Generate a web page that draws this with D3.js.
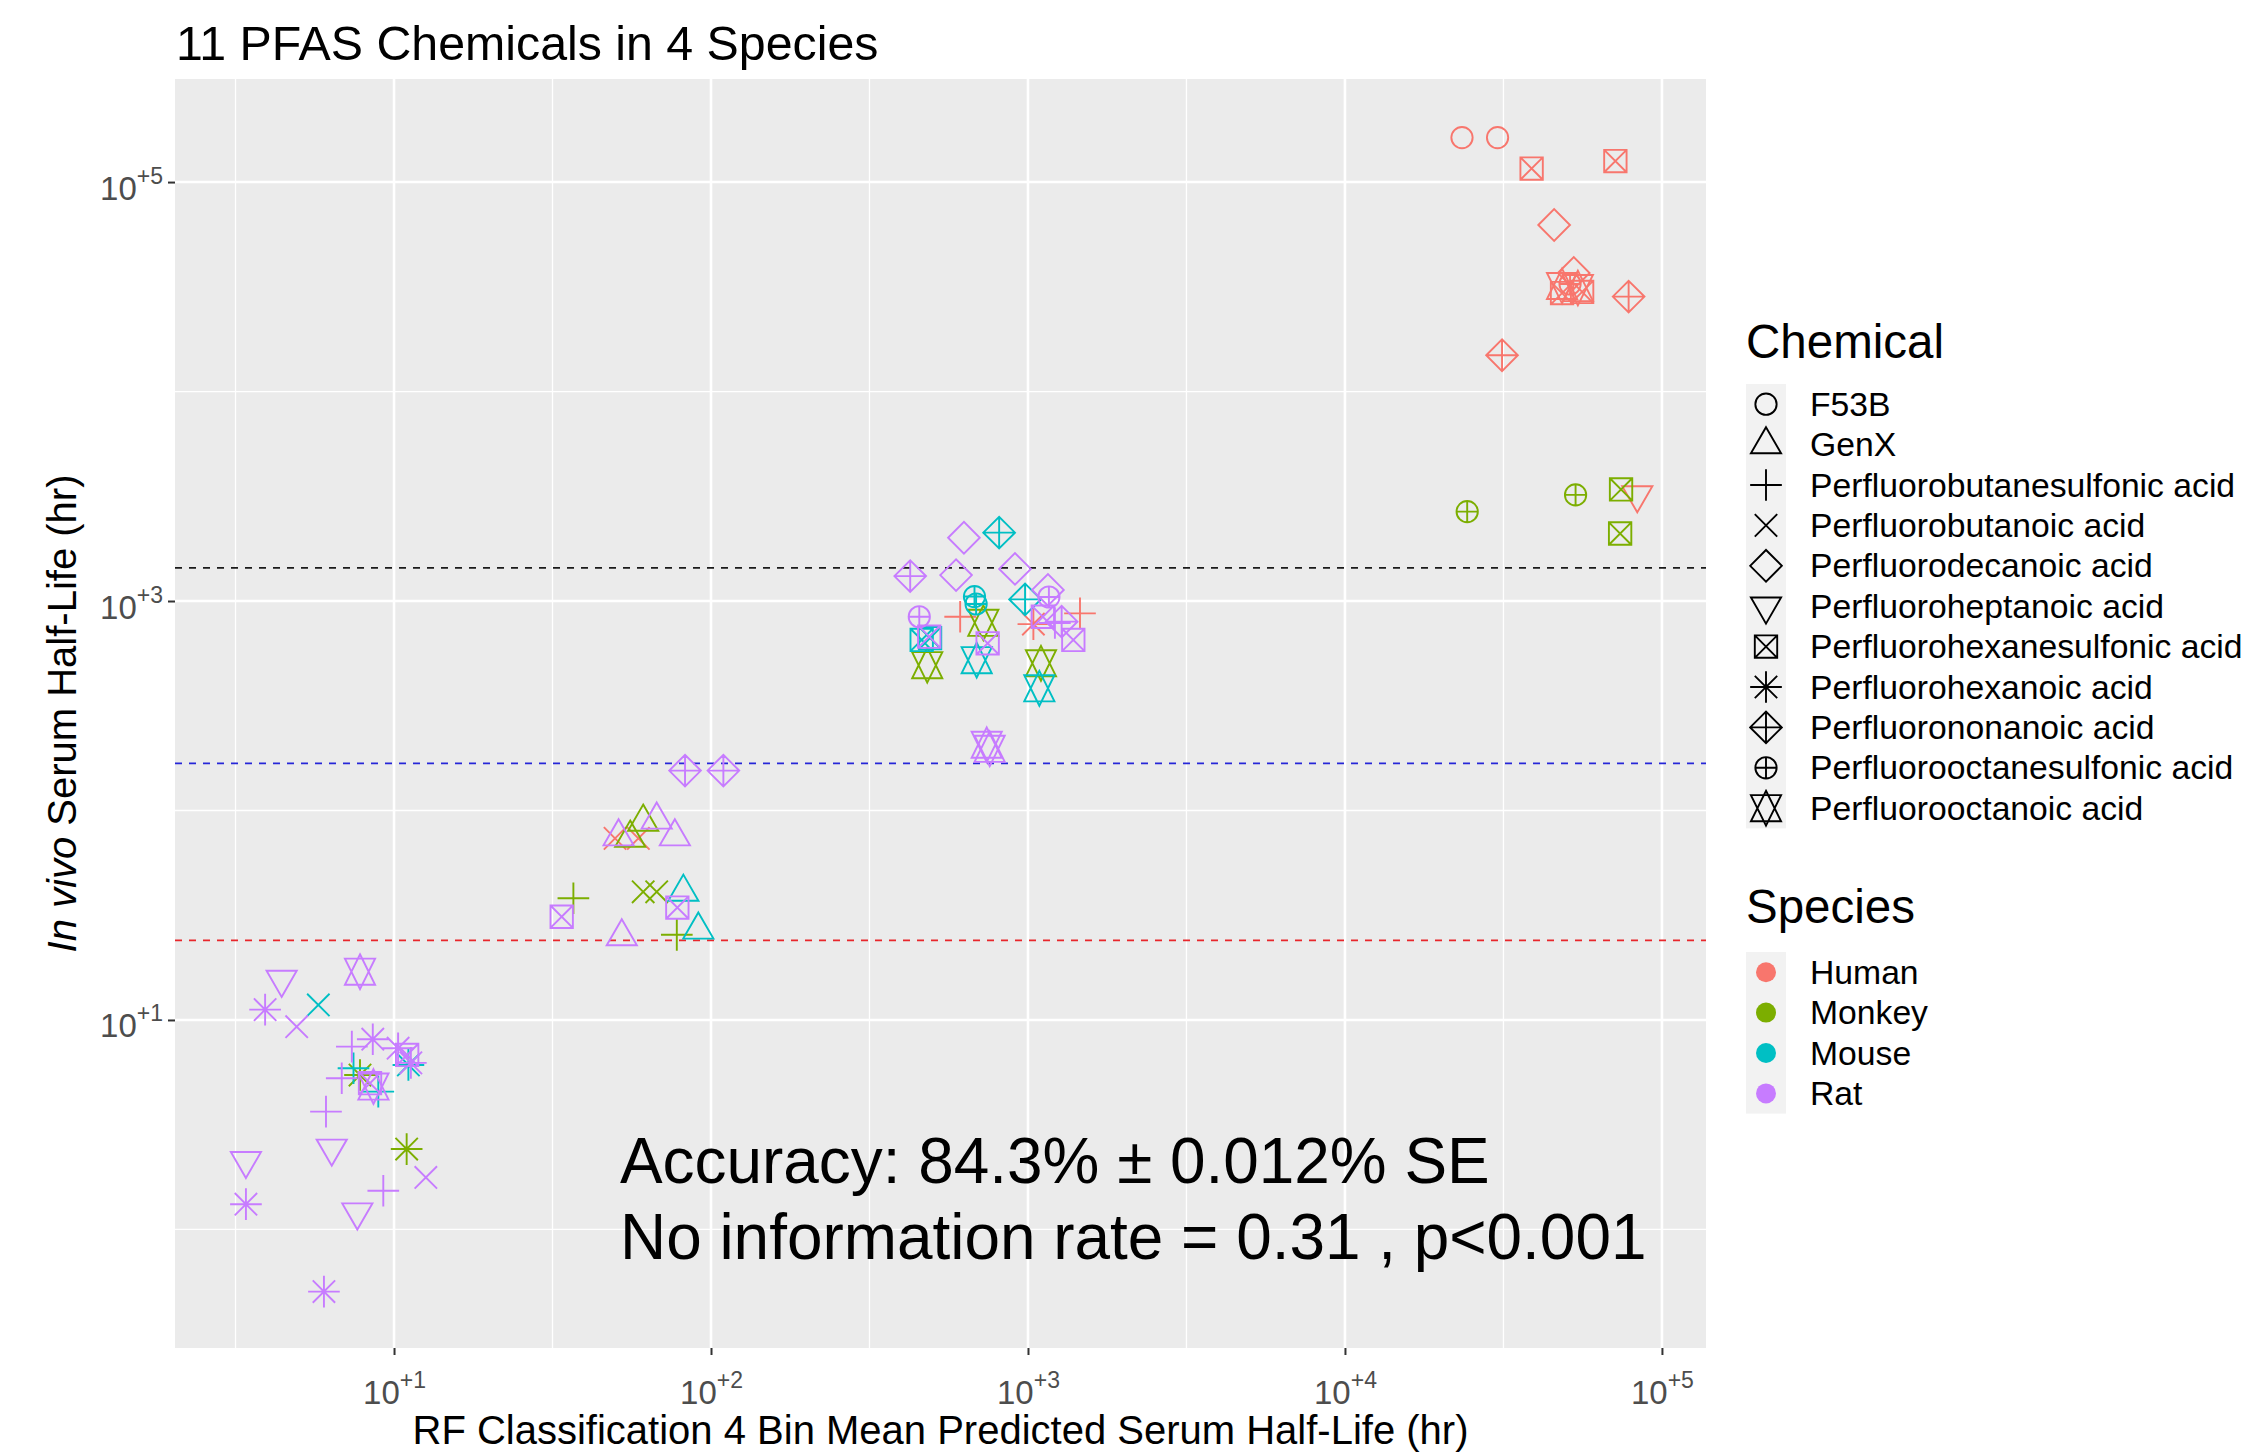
<html>
<head>
  <title></title>
  <script src="https://d3js.org/d3.v7.min.js"></script>
  <style type="text/css">
  body {
    margin: 0;
    background: #fff;
  }

  text {
    font-family: "Liberation Sans", Arial, Helvetica, sans-serif;
  }
  </style>
</head>
<body>
  <div id="viz"></div>

<script type="text/javascript">

const WIDTH = 2246;
const HEIGHT = 1454;
const panel = {left: 175, top: 79, right: 1706, bottom: 1348};

const chemicals = [
  "F53B",
  "GenX",
  "Perfluorobutanesulfonic acid",
  "Perfluorobutanoic acid",
  "Perfluorodecanoic acid",
  "Perfluoroheptanoic acid",
  "Perfluorohexanesulfonic acid",
  "Perfluorohexanoic acid",
  "Perfluorononanoic acid",
  "Perfluorooctanesulfonic acid",
  "Perfluorooctanoic acid"
];

const species = ["Human", "Monkey", "Mouse", "Rat"];
const speciesColors = ["#F8766D", "#7CAE00", "#00BFC4", "#C77CFF"];

// [chemical index, predicted half-life (hr), in vivo half-life (hr)]
const humanPoints = [
  [0, 23400, 163000], [0, 30300, 163000],
  [6, 38800, 116000], [6, 71300, 126000],
  [4, 45700, 62400], [4, 52700, 36800],
  [9, 51300, 32600], [10, 48400, 31900], [10, 54300, 31200],
  [6, 48400, 29500], [6, 56000, 29900],
  [8, 78500, 28400], [8, 31300, 14900],
  [5, 83600, 3210],
  [2, 611, 841], [2, 1459, 873], [7, 1040, 776],
  [3, 49.8, 73.6], [3, 59.0, 73.6]
];

const monkeyPoints = [
  [9, 24300, 2670], [9, 53400, 3210],
  [6, 74300, 3410], [6, 73800, 2100],
  [10, 723, 787], [10, 481, 494], [10, 1099, 504],
  [1, 61.1, 88.1], [1, 55.6, 73.9],
  [3, 61.1, 40.9], [3, 67.4, 40.9],
  [2, 36.8, 38.1], [2, 78.0, 25.5],
  [7, 7.81, 5.46], [7, 10.96, 2.42]
];

const mousePoints = [
  [8, 811, 2120], [8, 979, 1018],
  [9, 678, 1050], [9, 686, 968],
  [6, 462, 652], [6, 491, 665],
  [10, 689, 522], [10, 1086, 383],
  [1, 81.8, 40.8], [1, 91.2, 26.9],
  [3, 5.77, 11.8], [7, 11.1, 6.10],
  [2, 7.45, 5.88], [2, 8.92, 4.55]
];

const ratPoints = [
  [4, 628, 2005], [4, 593, 1330], [4, 910, 1423], [4, 1156, 1130],
  [8, 425, 1315], [8, 1277, 797], [8, 82.8, 155], [8, 109.4, 155],
  [9, 1164, 1045], [9, 454, 841],
  [6, 488, 676], [6, 746, 628], [6, 1390, 652], [6, 1114, 841],
  [6, 33.8, 31.1], [6, 78.3, 34.4], [6, 8.40, 4.99], [6, 11.0, 6.81],
  [2, 1216, 785],
  [10, 741, 206], [10, 757, 197], [10, 7.81, 17.0], [10, 8.61, 4.81],
  [1, 67.4, 90.2], [1, 51.1, 75.0], [1, 76.9, 75.0], [1, 52.3, 25.0],
  [5, 4.42, 15.6], [5, 6.36, 2.44], [5, 3.41, 2.13], [5, 7.66, 1.21],
  [7, 3.92, 11.2], [7, 8.57, 8.09], [7, 10.3, 7.33], [7, 11.3, 6.24],
  [7, 3.41, 1.32], [7, 6.01, 0.505],
  [3, 4.93, 9.29], [3, 12.6, 1.77],
  [2, 7.36, 7.46], [2, 6.84, 5.27], [2, 6.10, 3.65], [2, 9.25, 1.53]
];

const cutoffs = [24, 168, 1440];
const cutoffColors = ["#e8262b", "#2626d8", "#1a1a1a"];

const xMajor = [1e1, 1e2, 1e3, 1e4, 1e5];
const xMinor = [3.162, 31.62, 316.2, 3162, 31623];
const yMajor = [1e1, 1e3, 1e5];
const yMinor = [1, 100, 10000];

const titleText = "11 PFAS Chemicals in 4 Species";
const xTitle = "RF Classification 4 Bin Mean Predicted Serum Half-Life (hr)";
const noteLines = ["Accuracy: 84.3% \u00b1 0.012% SE", "No information rate = 0.31 , p<0.001"];

const R = 11.2;

// R pch shapes 1..11, drawn as svg paths
function shapePath(k, r) {
  const t0 = 1.5551 * r, t1 = 1.3468 * r, t2 = 0.7776 * r;
  const a = Math.SQRT2 * r;
  const circle = rr => `M${-rr},0A${rr},${rr} 0 1,0 ${rr},0A${rr},${rr} 0 1,0 ${-rr},0Z`;
  switch (k) {
    case 0: return circle(r * 0.95);
    case 1: return `M0,${-t0}L${t1},${t2}L${-t1},${t2}Z`;
    case 2: return `M${-a},0H${a}M0,${-a}V${a}`;
    case 3: return `M${-r},${-r}L${r},${r}M${-r},${r}L${r},${-r}`;
    case 4: return `M${-a},0L0,${-a}L${a},0L0,${a}Z`;
    case 5: return `M0,${t0}L${t1},${-t2}L${-t1},${-t2}Z`;
    case 6: return `M${-r},${-r}H${r}V${r}H${-r}ZM${-r},${-r}L${r},${r}M${-r},${r}L${r},${-r}`;
    case 7: return `M${-r},${-r}L${r},${r}M${-r},${r}L${r},${-r}M${-a},0H${a}M0,${-a}V${a}`;
    case 8: return `M${-a},0L0,${-a}L${a},0L0,${a}ZM${-a},0H${a}M0,${-a}V${a}`;
    case 9: return circle(r * 0.95) + `M${-r},0H${r}M0,${-r}V${r}`;
    case 10: {
      const yc = 0.5 * (t2 + t0);
      return `M0,${-t0}L${t1},${yc}L${-t1},${yc}ZM0,${t0}L${t1},${-yc}L${-t1},${-yc}Z`;
    }
  }
}

const svg = d3.select("#viz")
  .append("svg")
  .attr("width", WIDTH)
  .attr("height", HEIGHT)
  .style("background-color", "#fff");

const x = d3.scaleLog()
  .domain([Math.pow(10, 0.309), Math.pow(10, 5.139)])
  .range([panel.left, panel.right]);

const y = d3.scaleLog()
  .domain([Math.pow(10, -0.566), Math.pow(10, 5.492)])
  .range([panel.bottom, panel.top]);

const color = d3.scaleOrdinal().domain(species).range(speciesColors);

// panel and grid
svg.append("rect")
  .attr("x", panel.left)
  .attr("y", panel.top)
  .attr("width", panel.right - panel.left)
  .attr("height", panel.bottom - panel.top)
  .attr("fill", "#EBEBEB");

const grid = svg.append("g").attr("stroke", "#fff").attr("fill", "none");

grid.selectAll(".xminor")
  .data(xMinor)
  .enter().append("line")
  .attr("x1", d => x(d)).attr("x2", d => x(d))
  .attr("y1", panel.top).attr("y2", panel.bottom)
  .attr("stroke-width", 1.3);

grid.selectAll(".yminor")
  .data(yMinor)
  .enter().append("line")
  .attr("y1", d => y(d)).attr("y2", d => y(d))
  .attr("x1", panel.left).attr("x2", panel.right)
  .attr("stroke-width", 1.3);

grid.selectAll(".xmajor")
  .data(xMajor)
  .enter().append("line")
  .attr("x1", d => x(d)).attr("x2", d => x(d))
  .attr("y1", panel.top).attr("y2", panel.bottom)
  .attr("stroke-width", 2.6);

grid.selectAll(".ymajor")
  .data(yMajor)
  .enter().append("line")
  .attr("y1", d => y(d)).attr("y2", d => y(d))
  .attr("x1", panel.left).attr("x2", panel.right)
  .attr("stroke-width", 2.6);

// bin cutoffs
svg.selectAll(".cutoff")
  .data(cutoffs)
  .enter().append("line")
  .attr("x1", panel.left).attr("x2", panel.right)
  .attr("y1", d => y(d)).attr("y2", d => y(d))
  .attr("stroke", (d, i) => cutoffColors[i])
  .attr("stroke-width", 1.7)
  .attr("stroke-dasharray", "7,7");

// points
const points = [].concat(
  humanPoints.map(p => ({species: "Human", chem: p[0], x: p[1], y: p[2]})),
  monkeyPoints.map(p => ({species: "Monkey", chem: p[0], x: p[1], y: p[2]})),
  mousePoints.map(p => ({species: "Mouse", chem: p[0], x: p[1], y: p[2]})),
  ratPoints.map(p => ({species: "Rat", chem: p[0], x: p[1], y: p[2]}))
);

svg.append("g")
  .selectAll("path")
  .data(points)
  .enter().append("path")
  .attr("d", d => shapePath(d.chem, R))
  .attr("transform", d => `translate(${x(d.x)},${y(d.y)})`)
  .attr("fill", "none")
  .attr("stroke", d => color(d.species))
  .attr("stroke-width", 1.9);

// axes
function superLabel(sel, power) {
  sel.text("10")
    .append("tspan")
    .attr("font-size", 23)
    .attr("dy", -16)
    .text("+" + power);
}

const xAxis = svg.append("g")
  .attr("transform", `translate(0,${panel.bottom})`)
  .call(d3.axisBottom(x).tickValues(xMajor).tickSize(7).tickPadding(0).tickFormat(""));

const yAxis = svg.append("g")
  .attr("transform", `translate(${panel.left},0)`)
  .call(d3.axisLeft(y).tickValues(yMajor).tickSize(7).tickPadding(0).tickFormat(""));

[xAxis, yAxis].forEach(ax => {
  ax.select(".domain").remove();
  ax.selectAll(".tick line").attr("stroke", "#333").attr("stroke-width", 2);
});

xAxis.selectAll(".tick text")
  .attr("y", 56)
  .attr("dy", 0)
  .attr("fill", "#4D4D4D")
  .attr("font-size", 33)
  .attr("text-anchor", "middle")
  .each(function(d) { superLabel(d3.select(this), Math.round(Math.log10(d))); });

yAxis.selectAll(".tick text")
  .attr("x", -12)
  .attr("dy", 0)
  .attr("y", 17)
  .attr("fill", "#4D4D4D")
  .attr("font-size", 33)
  .attr("text-anchor", "end")
  .each(function(d) { superLabel(d3.select(this), Math.round(Math.log10(d))); });

// titles
svg.append("text")
  .attr("x", 176)
  .attr("y", 60)
  .attr("font-size", 48.3)
  .text(titleText);

svg.append("text")
  .attr("x", (panel.left + panel.right) / 2)
  .attr("y", 1444)
  .attr("font-size", 40)
  .attr("text-anchor", "middle")
  .text(xTitle);

const yt = svg.append("text")
  .attr("transform", `translate(76,${(panel.top + panel.bottom) / 2}) rotate(-90)`)
  .attr("font-size", 40)
  .attr("text-anchor", "middle");
yt.append("tspan").attr("font-style", "italic").text("In vivo");
yt.append("tspan").text(" Serum Half-Life (hr)");

svg.selectAll(".note")
  .data(noteLines)
  .enter().append("text")
  .attr("x", 620)
  .attr("y", (d, i) => 1183 + i * 76)
  .attr("font-size", 63.9)
  .text(d => d);

// legends
const legendX = 1746;
const rowH = 40.4;

svg.append("text")
  .attr("x", legendX)
  .attr("y", 358)
  .attr("font-size", 47.5)
  .text("Chemical");

svg.append("rect")
  .attr("x", legendX)
  .attr("y", 384)
  .attr("width", 40)
  .attr("height", rowH * chemicals.length)
  .attr("fill", "#F2F2F2");

const chemRows = svg.selectAll(".chemRow")
  .data(chemicals)
  .enter().append("g")
  .attr("transform", (d, i) => `translate(${legendX + 20},${384 + rowH * (i + 0.5)})`);

chemRows.append("path")
  .attr("d", (d, i) => shapePath(i, R))
  .attr("fill", "none")
  .attr("stroke", "#000")
  .attr("stroke-width", 1.9);

chemRows.append("text")
  .attr("x", 44)
  .attr("y", 11.5)
  .attr("font-size", 33.7)
  .text(d => d);

svg.append("text")
  .attr("x", legendX)
  .attr("y", 923)
  .attr("font-size", 47.5)
  .text("Species");

svg.append("rect")
  .attr("x", legendX)
  .attr("y", 952)
  .attr("width", 40)
  .attr("height", rowH * species.length)
  .attr("fill", "#F2F2F2");

const spRows = svg.selectAll(".spRow")
  .data(species)
  .enter().append("g")
  .attr("transform", (d, i) => `translate(${legendX + 20},${952 + rowH * (i + 0.5)})`);

spRows.append("circle")
  .attr("r", 10)
  .attr("fill", d => color(d));

spRows.append("text")
  .attr("x", 44)
  .attr("y", 11.5)
  .attr("font-size", 33.7)
  .text(d => d);

</script>
</body>
</html>
